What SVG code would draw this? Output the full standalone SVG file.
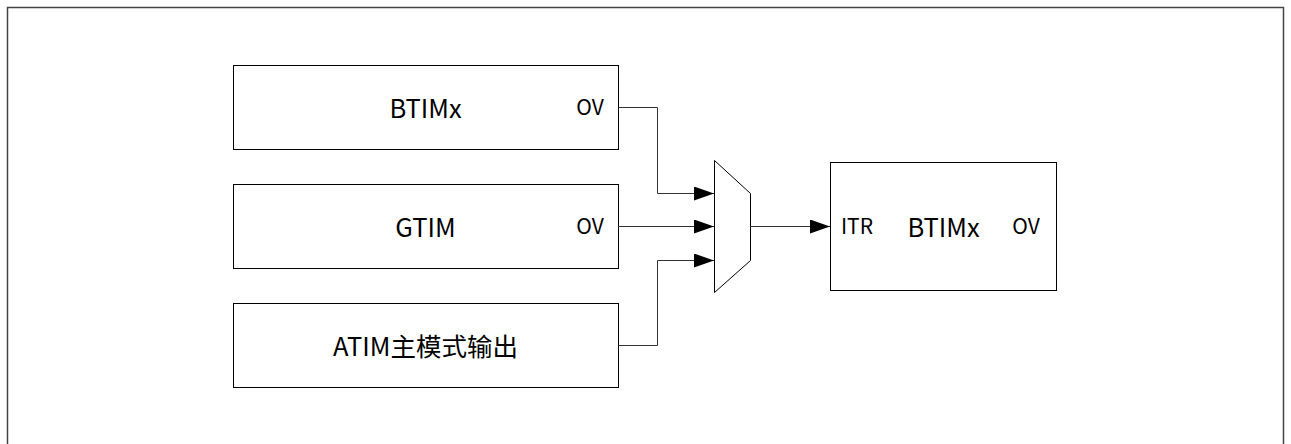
<svg xmlns="http://www.w3.org/2000/svg" width="1291" height="444" viewBox="0 0 1291 444">
<defs>
<style>
.frame{fill:#fff;stroke:#444;stroke-width:1.5}
.box{fill:#fff;stroke:#000;stroke-width:1}
.wire{fill:none;stroke:#333;stroke-width:1}
.big{font-family:"Noto Sans CJK SC","Noto Sans",sans-serif;font-size:25.5px;fill:#000;text-anchor:middle;dominant-baseline:central}
.small{font-family:"Noto Sans CJK SC","Noto Sans",sans-serif;font-size:21px;fill:#000;text-anchor:middle;dominant-baseline:central}
</style>
<marker id="arr" viewBox="0 0 20 14" refX="20" refY="7" markerWidth="20" markerHeight="14" markerUnits="userSpaceOnUse" orient="auto">
<path d="M0,0 L20,7 L0,14 Z" fill="#000"/>
</marker>
</defs>
<rect x="0" y="0" width="1291" height="444" fill="#fff"/>
<path class="frame" d="M7.5,460 V7.5 H1283.5 V460"/>
<g id="node-btim1">
<rect class="box" x="233.5" y="65.5" width="385" height="84"/>
<text class="big" x="425.5" y="106">BTIMx</text>
<text class="small" x="590" y="106">OV</text>
</g>
<g id="node-gtim">
<rect class="box" x="233.5" y="184.5" width="385" height="84"/>
<text class="big" x="425.5" y="225">GTIM</text>
<text class="small" x="590" y="225">OV</text>
</g>
<g id="node-atim">
<rect class="box" x="233.5" y="303.5" width="385" height="84"/>
<text class="big" x="425.5" y="344">ATIM主模式输出</text>
</g>
<g id="node-mux">
<path class="box" d="M714.5,160.5 L750.5,193.5 L750.5,260.5 L714.5,292.5 Z"/>
</g>
<g id="node-btim2">
<rect class="box" x="830.5" y="162.5" width="226" height="128"/>
<text class="small" x="857" y="225">ITR</text>
<text class="big" x="943.5" y="225">BTIMx</text>
<text class="small" x="1026" y="225">OV</text>
</g>
<g id="connectors">
<path class="wire" d="M618.5,107.5 H657.5 V193.5 H714" marker-end="url(#arr)"/>
<path class="wire" d="M618.5,226.5 H714" marker-end="url(#arr)"/>
<path class="wire" d="M618.5,345.5 H657.5 V260.5 H714" marker-end="url(#arr)"/>
<path class="wire" d="M750.5,226.5 H830" marker-end="url(#arr)"/>
</g>
</svg>
